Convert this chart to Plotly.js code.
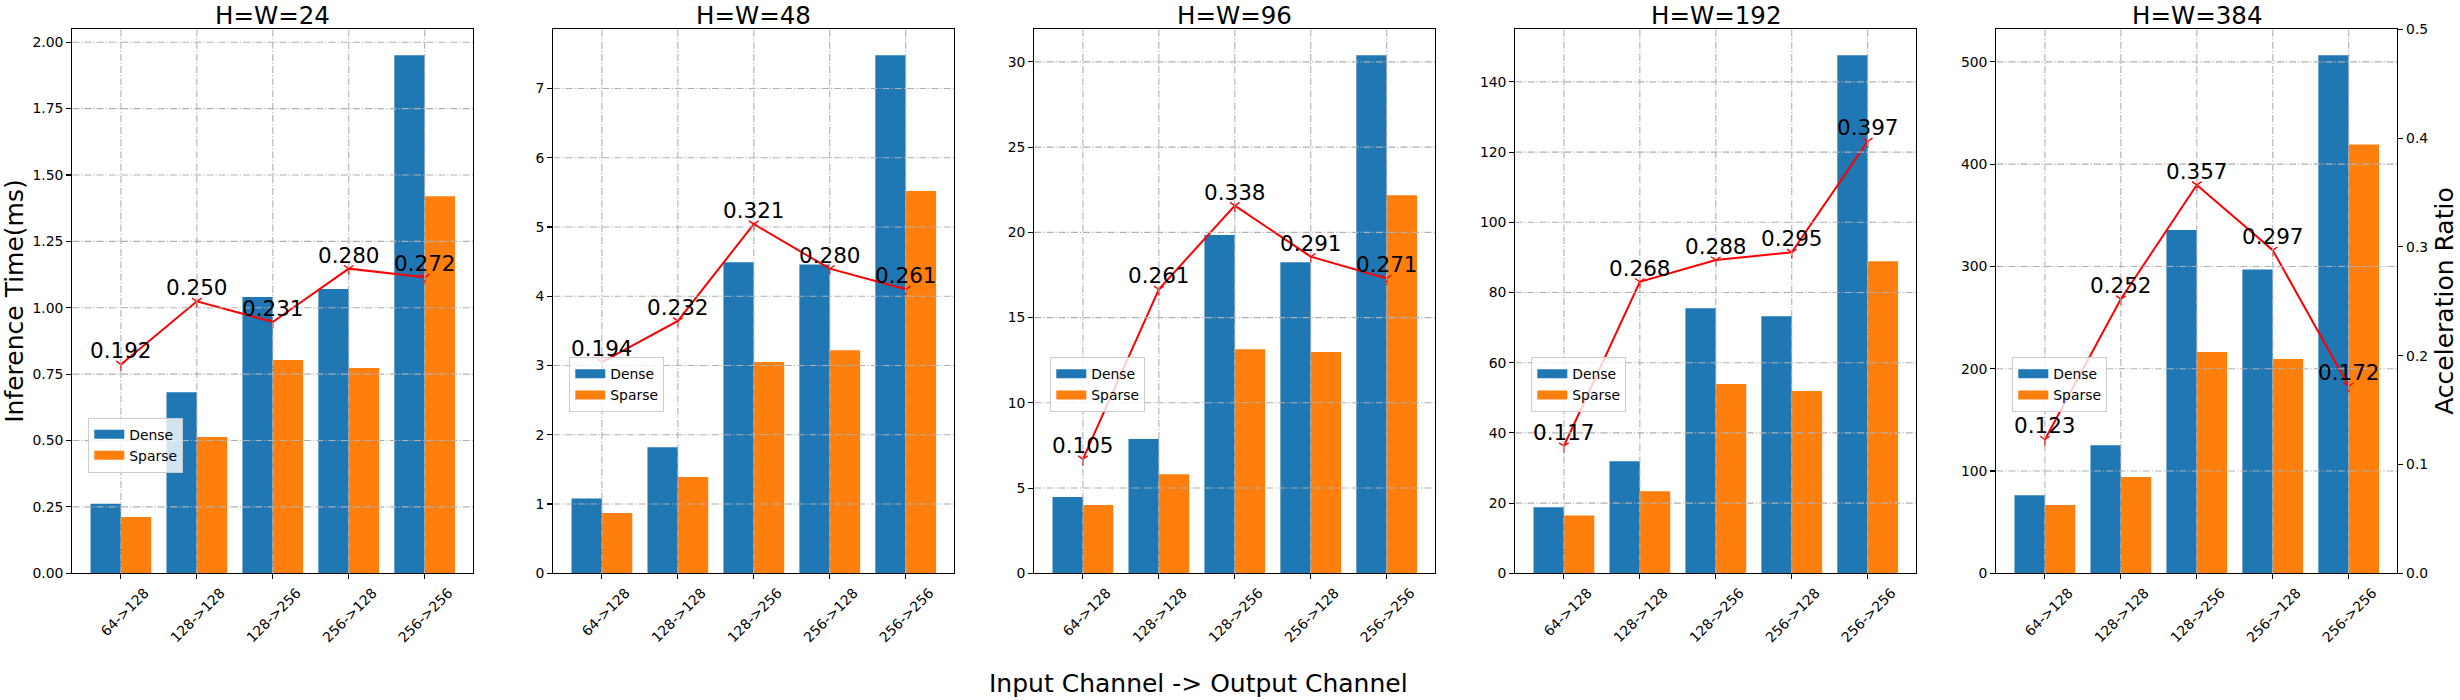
<!DOCTYPE html>
<html><head><meta charset="utf-8">
<script src="https://cdn.plot.ly/plotly-3.0.1.min.js"></script>
<style>html,body{margin:0;padding:0;background:#fff}</style>
</head><body><div id="chart" style="width:2460px;height:700px"></div>
<script>
// ---- data ----
const categories = ['64->128', '128->128', '128->256', '256->128', '256->256'];
const panelTitles = ['H=W=24', 'H=W=48', 'H=W=96', 'H=W=192', 'H=W=384'];

const dense24  = [0.262, 0.682, 1.040, 1.071, 1.951];
const sparse24 = [0.212, 0.513, 0.803, 0.773, 1.420];
const ratio24  = [0.192, 0.250, 0.231, 0.280, 0.272];

const dense48  = [1.08, 1.82, 4.49, 4.46, 7.48];
const sparse48 = [0.87, 1.39, 3.05, 3.22, 5.52];
const ratio48  = [0.194, 0.232, 0.321, 0.280, 0.261];

const dense96  = [4.48, 7.88, 19.84, 18.25, 30.39];
const sparse96 = [4.01, 5.81, 13.14, 12.98, 22.17];
const ratio96  = [0.105, 0.261, 0.338, 0.291, 0.271];

const dense192  = [18.8, 31.9, 75.5, 73.2, 147.6];
const sparse192 = [16.5, 23.4, 53.9, 51.9, 88.9];
const ratio192  = [0.117, 0.268, 0.288, 0.295, 0.397];

const dense384  = [76.4, 125.2, 335.5, 297.1, 506.5];
const sparse384 = [66.8, 94.2, 216.4, 209.4, 419.3];
const ratio384  = [0.123, 0.252, 0.357, 0.297, 0.172];

const denseSeries  = [dense24, dense48, dense96, dense192, dense384];
const sparseSeries = [sparse24, sparse48, sparse96, sparse192, sparse384];
const ratioSeries  = [ratio24, ratio48, ratio96, ratio192, ratio384];

const yTickStep   = [0.25, 1, 5, 20, 100];
const yTickFormat = ['.2f', '', '', '', ''];
const ratioRange  = [0, 0.5];
const ratioStep   = 0.1;

// ---- layout geometry (px) ----
const W = 2460, H = 700;
const axLeft = [72.3, 553.3, 1034.3, 1515.3, 1996.3];
const axWidth = 401;
const axTop = 29.3, axBottom = 573.3;
const legendPos = [[88.3, 417.6], [569.3, 357.3], [1050.3, 357.3], [1531.3, 357.3], [2012.3, 357.3]];

const FONT = 'DejaVu Sans';
const BLUE = '#1f77b4', ORANGE = '#ff7f0e';
const GRID = {color: '#b0b0b0', width: 1.1, dash: '7px,2px,1.2px,2px'};

const yDom = [1 - axBottom / H, 1 - axTop / H];
const traces = [];
const layout = {
  width: W, height: H,
  margin: {l: 0, r: 0, t: 0, b: 0},
  paper_bgcolor: '#fff', plot_bgcolor: '#fff',
  font: {family: FONT, color: '#000', size: 14},
  barmode: 'group', bargap: 0.2, bargroupgap: 0,
  showlegend: true,
  annotations: [], shapes: []
};

for (let p = 0; p < 5; p++) {
  const n = p + 1, n2 = p + 6;
  const xa = 'x' + n, ya = 'y' + n, ya2 = 'y' + n2;
  const legName = p === 0 ? 'legend' : 'legend' + n;
  const yMax = Math.max(...denseSeries[p]) * 1.05;

  layout['xaxis' + n] = {
    domain: [axLeft[p] / W, (axLeft[p] + axWidth) / W], anchor: ya,
    type: 'category', range: [-0.64, 4.64],
    showline: true, mirror: true, linecolor: '#000', linewidth: 1.1,
    ticks: 'outside', ticklen: 5, tickwidth: 1.1, tickcolor: '#000',
    tickangle: -45, ticklabelshift: 24, ticklabelstandoff: 0,
    tickfont: {family: FONT, size: 13.9, color: '#000'},
    showgrid: false, zeroline: false, fixedrange: true
  };
  layout['yaxis' + n] = {
    domain: yDom, anchor: xa, range: [0, yMax],
    tickmode: 'linear', tick0: 0, dtick: yTickStep[p], tickformat: yTickFormat[p],
    showline: true, mirror: true, linecolor: '#000', linewidth: 1.1,
    ticks: 'outside', ticklen: 5, tickwidth: 1.1, tickcolor: '#000',
    tickfont: {family: FONT, size: 13.9, color: '#000'},
    showgrid: false, zeroline: false, fixedrange: true
  };
  const last = p === 4;
  layout['yaxis' + n2] = {
    overlaying: ya, anchor: xa, side: 'right', range: ratioRange,
    tickmode: 'linear', tick0: 0, dtick: ratioStep, tickformat: '.1f',
    showticklabels: last, ticks: last ? 'outside' : '',
    ticklen: 5, tickwidth: 1.1, tickcolor: '#000',
    tickfont: {family: FONT, size: 13.9, color: '#000'},
    showline: false, showgrid: false, zeroline: false, fixedrange: true
  };

  layout[legName] = {
    x: legendPos[p][0] / W, y: 1 - legendPos[p][1] / H,
    xanchor: 'left', yanchor: 'top',
    bgcolor: 'rgba(255,255,255,0.8)', bordercolor: '#cccccc', borderwidth: 1,
    font: {family: FONT, size: 13.9, color: '#000'},
    tracegroupgap: 0
  };

  traces.push({
    type: 'bar', x: categories, y: denseSeries[p], name: 'Dense',
    xaxis: xa, yaxis: ya, marker: {color: BLUE, line: {width: 0}}, showlegend: false
  });
  traces.push({
    type: 'bar', x: categories, y: sparseSeries[p], name: 'Sparse',
    xaxis: xa, yaxis: ya, marker: {color: ORANGE, line: {width: 0}}, showlegend: false
  });
  traces.push({
    type: 'scatter', mode: 'lines+markers', x: categories, y: ratioSeries[p],
    xaxis: xa, yaxis: ya2, line: {color: '#ff0000', width: 2},
    marker: {symbol: 'y-down', size: 8, color: '#ff0000', line: {color: '#ff0000', width: 1.4}},
    showlegend: false
  });
  // legend entries
  traces.push({
    type: 'scatter', mode: 'lines', x: [null], y: [null], name: 'Dense',
    xaxis: xa, yaxis: ya, legend: legName, line: {color: BLUE, width: 9}, showlegend: true
  });
  traces.push({
    type: 'scatter', mode: 'lines', x: [null], y: [null], name: 'Sparse',
    xaxis: xa, yaxis: ya, legend: legName, line: {color: ORANGE, width: 9}, showlegend: true
  });

  // grid lines (drawn above bars, as in the reference)
  for (let v = yTickStep[p]; v <= yMax + 1e-9; v += yTickStep[p]) {
    layout.shapes.push({
      type: 'line', layer: 'above', xref: xa + ' domain', yref: ya,
      x0: 0, x1: 1, y0: v, y1: v, line: GRID
    });
  }
  for (let k = 0; k < categories.length; k++) {
    layout.shapes.push({
      type: 'line', layer: 'above', xref: xa, yref: ya + ' domain',
      x0: k, x1: k, y0: 0, y1: 1, line: GRID
    });
  }

  // ratio value labels
  ratioSeries[p].forEach((r, k) => {
    layout.annotations.push({
      xref: xa, yref: ya2, x: k, y: r, text: r.toFixed(3),
      showarrow: false, xanchor: 'center', yanchor: 'bottom', yshift: -1,
      font: {family: FONT, size: 21.5, color: '#000'}
    });
  });

  // panel title
  layout.annotations.push({
    xref: 'paper', yref: 'paper', x: (axLeft[p] + axWidth / 2) / W, y: 1,
    text: panelTitles[p], showarrow: false, xanchor: 'center', yanchor: 'top',
    borderpad: 0, yshift: 0,
    font: {family: FONT, size: 24.5, color: '#000'}
  });
}

// axis titles
layout.annotations.push({
  xref: 'paper', yref: 'paper', x: 0, y: (yDom[0] + yDom[1]) / 2,
  xanchor: 'left', yanchor: 'middle', xshift: -2, textangle: -90,
  text: 'Inference Time(ms)', showarrow: false,
  font: {family: FONT, size: 25, color: '#000'}
});
layout.annotations.push({
  xref: 'paper', yref: 'paper', x: 2428 / W, y: (yDom[0] + yDom[1]) / 2,
  xanchor: 'left', yanchor: 'middle', textangle: -90,
  text: 'Acceleration Ratio', showarrow: false,
  font: {family: FONT, size: 25, color: '#000'}
});
layout.annotations.push({
  xref: 'paper', yref: 'paper', x: 1198 / W, y: 0,
  xanchor: 'center', yanchor: 'bottom',
  text: 'Input Channel -> Output Channel', showarrow: false,
  font: {family: FONT, size: 25, color: '#000'}
});

Plotly.newPlot('chart', traces, layout, {displayModeBar: false, staticPlot: true});
</script>
</body></html>
